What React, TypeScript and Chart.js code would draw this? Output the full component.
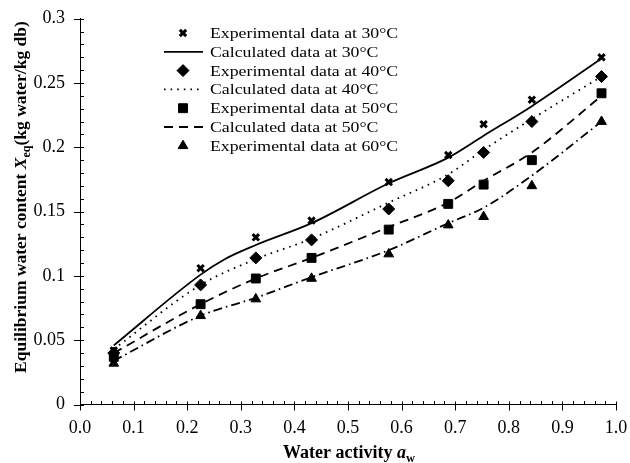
import React, { useEffect, useRef } from 'react';
import { Chart, registerables } from 'chart.js';
import { drawPoint } from 'chart.js/helpers';

Chart.register(...registerables);

// ---------- data ----------
const waterActivity = [0.063, 0.225, 0.328, 0.432, 0.576, 0.687, 0.753, 0.843, 0.973];
const exp30 = [0.042, 0.106, 0.130, 0.143, 0.173, 0.194, 0.218, 0.237, 0.270];
const exp40 = [0.040, 0.093, 0.114, 0.128, 0.152, 0.174, 0.196, 0.220, 0.255];
const exp50 = [0.037, 0.078, 0.098, 0.114, 0.136, 0.156, 0.171, 0.190, 0.242];
const exp60 = [0.032, 0.069, 0.082, 0.098, 0.117, 0.1395, 0.146, 0.170, 0.220];

const calcAw30 = [0.063, 0.225, 0.27, 0.328, 0.432, 0.576, 0.687, 0.753, 0.843, 0.973];
const calc30 = [0.046, 0.101, 0.113, 0.124, 0.141, 0.172, 0.192, 0.209, 0.232, 0.269];
const calcAw = [0.063, 0.225, 0.328, 0.432, 0.576, 0.687, 0.753, 0.843, 0.973];
const calc40 = [0.043, 0.093, 0.113, 0.129, 0.157, 0.179, 0.198, 0.222, 0.255];
const calc50 = [0.040, 0.078, 0.098, 0.114, 0.138, 0.157, 0.174, 0.196, 0.240];
const calc60 = [0.034, 0.069, 0.083, 0.099, 0.120, 0.141, 0.153, 0.178, 0.220];

const xTickValues = [0, 0.1, 0.2, 0.3, 0.4, 0.5, 0.6, 0.7, 0.8, 0.9, 1.0];
const yTickLabels = ['0', '0.05', '0.1', '0.15', '0.2', '0.25', '0.3'];

const legendLabels = [
  'Experimental data at 30°C',
  'Calculated data at 30°C',
  'Experimental data at 40°C',
  'Calculated data at 40°C',
  'Experimental data at 50°C',
  'Calculated data at 50°C',
  'Experimental data at 60°C',
];

const SERIF = "'Liberation Serif', 'Times New Roman', serif";
const W = 630;
const H = 463;
const STRETCH = 1.17;

const toPoints = (xs: number[], ys: number[]) => xs.map((x, i) => ({ x, y: ys[i] }));

type Part = { text: string; font: string; dy?: number };

function drawRich(ctx: CanvasRenderingContext2D, parts: Part[]) {
  let total = 0;
  const widths = parts.map((p) => {
    ctx.font = p.font;
    const w = ctx.measureText(p.text).width;
    total += w;
    return w;
  });
  let x = -total / 2;
  ctx.textAlign = 'left';
  ctx.textBaseline = 'alphabetic';
  parts.forEach((p, i) => {
    ctx.font = p.font;
    ctx.fillText(p.text, x, p.dy || 0);
    x += widths[i];
  });
}

const decorations = {
  id: 'decorations',
  afterDraw(chart: any) {
    const { ctx, chartArea, scales } = chart;
    const xs = scales.x;
    const ys = scales.y;
    ctx.save();
    ctx.strokeStyle = '#000';
    ctx.fillStyle = '#000';
    ctx.lineWidth = 1;

    // x ticks (major 0.1, minor 0.02)
    for (let i = 0; i <= 50; i++) {
      const major = i % 5 === 0;
      const px = Math.round(xs.getPixelForValue(i * 0.02)) + 0.5;
      const b = chartArea.bottom;
      ctx.beginPath();
      ctx.moveTo(px, b - (major ? 3 : 3.5));
      ctx.lineTo(px, b + (major ? 6 : 0));
      ctx.stroke();
    }
    // y ticks (major 0.05, minor 0.01)
    for (let i = 0; i <= 30; i++) {
      const major = i % 5 === 0;
      const py = Math.round(ys.getPixelForValue(i * 0.01)) + 0.5;
      const l = chartArea.left;
      ctx.beginPath();
      ctx.moveTo(l - (major ? 6 : 0), py);
      ctx.lineTo(l + 4, py);
      ctx.stroke();
    }

    // legend
    const ds = chart.data.datasets;
    const rowY0 = 33;
    const rowStep = 18.8;
    const markX = 183;
    const lineX0 = 164;
    const lineX1 = 203;
    const textX = 210;
    for (let i = 0; i < legendLabels.length; i++) {
      const d = ds[i];
      const yy = rowY0 + i * rowStep;
      ctx.fillStyle = '#000';
      ctx.strokeStyle = '#000';
      if (d.showLine === false) {
        ctx.save();
        ctx.lineWidth = d.pointBorderWidth;
        drawPoint(ctx, {
          pointStyle: d.pointStyle,
          radius: d.pointRadius,
          borderWidth: d.pointBorderWidth,
          rotation: 0,
        } as any, markX, yy);
        ctx.restore();
      } else {
        ctx.save();
        ctx.lineWidth = d.borderWidth;
        ctx.setLineDash(d.borderDash || []);
        ctx.beginPath();
        ctx.moveTo(lineX0, yy);
        ctx.lineTo(lineX1, yy);
        ctx.stroke();
        ctx.restore();
      }
      ctx.save();
      ctx.translate(textX, yy + 1);
      ctx.scale(STRETCH, 1);
      ctx.font = `15.2px ${SERIF}`;
      ctx.textAlign = 'left';
      ctx.textBaseline = 'middle';
      ctx.fillText(legendLabels[i], 0, 0);
      ctx.restore();
    }

    // x title
    ctx.save();
    ctx.translate(349, 458);
    drawRich(ctx, [
      { text: 'Water activity ', font: `bold 18px ${SERIF}` },
      { text: 'a', font: `italic bold 18px ${SERIF}` },
      { text: 'w', font: `bold 12.5px ${SERIF}`, dy: 4 },
    ]);
    ctx.restore();

    // y title
    ctx.save();
    ctx.translate(26, 197);
    ctx.rotate(-Math.PI / 2);
    drawRich(ctx, [
      { text: 'Equilibrium water content ', font: `bold 17.5px ${SERIF}` },
      { text: 'X', font: `italic bold 17.5px ${SERIF}` },
      { text: 'eq', font: `bold 12px ${SERIF}`, dy: 4 },
      { text: '(kg water/kg db)', font: `bold 17.5px ${SERIF}` },
    ]);
    ctx.restore();

    ctx.restore();
  },
};

export default function App() {
  const ref = useRef<HTMLCanvasElement | null>(null);

  useEffect(() => {
    document.body.style.margin = '0';
    const canvas = ref.current;
    if (!canvas) return;

    const markerDs = (data: number[], style: string, radius: number, bw: number) => ({
      type: 'scatter' as const,
      data: toPoints(waterActivity, data),
      showLine: false,
      pointStyle: style,
      pointRadius: radius,
      pointBorderWidth: bw,
      backgroundColor: '#000',
      borderColor: '#000',
      pointBackgroundColor: '#000',
      pointBorderColor: '#000',
      order: 0,
    });
    const lineDs = (xs: number[], data: number[], dash: number[], width: number) => ({
      type: 'line' as const,
      data: toPoints(xs, data),
      showLine: true,
      borderColor: '#000',
      backgroundColor: '#000',
      borderWidth: width,
      borderDash: dash,
      pointRadius: 0,
      fill: false,
      cubicInterpolationMode: 'monotone' as const,
      order: 1,
    });

    const chart = new Chart(canvas, {
      type: 'scatter',
      data: {
        datasets: [
          markerDs(exp30, 'crossRot', 4.5, 3),
          lineDs(calcAw30, calc30, [], 1.8),
          markerDs(exp40, 'rectRot', 6, 1),
          lineDs(calcAw, calc40, [1.6, 5], 1.8),
          markerDs(exp50, 'rect', 6.3, 1),
          lineDs(calcAw, calc50, [9, 6], 1.8),
          markerDs(exp60, 'triangle', 5.6, 1),
          lineDs(calcAw, calc60, [9, 4, 1.6, 4], 1.8),
        ] as any,
      },
      options: {
        animation: false,
        responsive: false,
        maintainAspectRatio: false,
        layout: { padding: { left: 0, right: 14, top: 18.7, bottom: 0 } },
        plugins: {
          legend: { display: false },
          tooltip: { enabled: false },
        },
        scales: {
          x: {
            type: 'linear',
            min: 0,
            max: 1,
            afterFit: (s: any) => {
              s.height = H - 404.5;
              s.paddingLeft = 0;
              s.paddingRight = 0;
            },
            afterBuildTicks: (s: any) => { s.ticks = xTickValues.map((v) => ({ value: v })); },
            ticks: {
              callback: (v: any) => Number(v).toFixed(1),
              font: { family: SERIF, size: 18 },
              color: '#000',
              padding: 13,
              maxRotation: 0,
              autoSkip: false,
            },
            grid: { display: false, drawTicks: false },
            border: { display: true, color: '#000', width: 1 },
          },
          y: {
            type: 'linear',
            min: 0,
            max: 0.3,
            afterFit: (s: any) => {
              s.width = 80;
              s.paddingTop = 0;
              s.paddingBottom = 0;
            },
            afterBuildTicks: (s: any) => { s.ticks = yTickLabels.map((t) => ({ value: parseFloat(t) })); },
            ticks: {
              callback: (v: any, i: number) => yTickLabels[i],
              font: { family: SERIF, size: 18 },
              color: '#000',
              padding: 15,
              autoSkip: false,
            },
            grid: { display: false, drawTicks: false },
            border: { display: true, color: '#000', width: 1 },
          },
        },
      } as any,
      plugins: [decorations],
    });

    return () => chart.destroy();
  }, []);

  return (
    <div style={{ width: W, height: H, background: '#fff' }}>
      <canvas ref={ref} width={W} height={H} style={{ display: 'block', width: W, height: H }} />
    </div>
  );
}
